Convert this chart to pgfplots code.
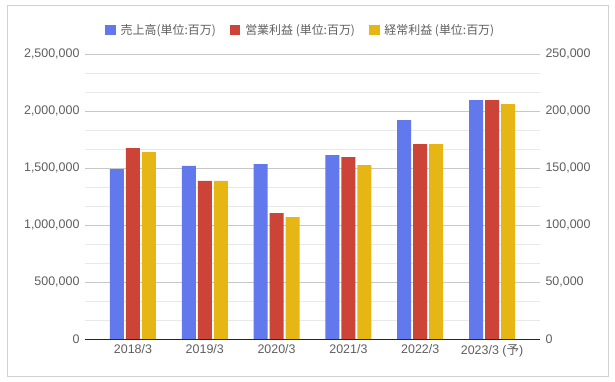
\documentclass[border=0pt]{standalone}
\usepackage{fontspec}
\setmainfont{Liberation Sans}
\newfontfamily\cjk{Noto Sans CJK JP}
\usepackage{pgfplots}
\pgfplotsset{compat=1.18}
\definecolor{cblue}{RGB}{98,121,238}
\definecolor{cred}{RGB}{204,67,56}
\definecolor{cyellow}{RGB}{230,182,20}
\definecolor{ctext}{RGB}{95,95,95}
\pgfplotsset{
  base/.style={
    scale only axis, width=455bp, height=285bp,
    at={(0,0)}, anchor=south west,
    xmin=-0.668, xmax=5.668, ymin=0,
    major tick length=0pt, minor tick length=0pt,
    scaled y ticks=false,
    tick label style={font=\fontsize{12.5}{14}\selectfont, text=ctext},
    /pgf/number format/.cd, fixed, 1000 sep={,}, assume math mode=true,
  },
  sq/.style={legend image code/.code={\draw[##1,draw=none] (0bp,-5bp) rectangle (10.5bp,5bp);}},
}
\begin{document}
\begin{tikzpicture}
\useasboundingbox (-85bp,-43bp) rectangle (530bp,339bp);
\fill[white] (-85bp,-43bp) rectangle (530bp,339bp);
\draw[black!18] (-78bp,-37bp) rectangle (523bp,334bp);
\begin{axis}[base,
  ymax=2500000,
  ytick={0,500000,1000000,1500000,2000000,2500000},
  minor y tick num=2,
  ymajorgrids, yminorgrids,
  major grid style={black!22, line width=0.6pt},
  minor grid style={black!9, line width=0.6pt},
  axis x line*=bottom, axis y line*=left,
  y axis line style={draw=none},
  x axis line style={draw=black!85, line width=0.8pt, -},
  xtick={0,1,2,3,4,5},
  xticklabels={2018/3,2019/3,2020/3,2021/3,2022/3,{2023/3 ({\cjk 予})}},
  yticklabel style={xshift=-2bp},
  xticklabel style={yshift=-2bp},
]
\addplot[ybar, bar width=14bp, bar shift=-16bp, fill=cblue, draw=none]
  coordinates {(0,1490000) (1,1518000) (2,1535000) (3,1614000) (4,1921000) (5,2096000)};
\end{axis}
\begin{axis}[base,
  ymax=250000,
  ytick={0,50000,100000,150000,200000,250000},
  axis x line=none, axis y line*=right,
  y axis line style={draw=none},
  yticklabel style={xshift=2bp},
  legend columns=3,
  legend style={at={(0.044,1)}, anchor=west, yshift=24bp, draw=none, fill=none,
    inner sep=0pt, font=\cjk\fontsize{12}{14}\selectfont, text=ctext,
    /tikz/every odd column/.append style={column sep=3bp},
    /tikz/every even column/.append style={column sep=12bp}},
]
\addlegendimage{sq, fill=cblue, draw=none}
\addlegendentry{売上高(単位:百万)}
\addplot[ybar, bar width=14bp, bar shift=0bp, fill=cred, draw=none, sq]
  coordinates {(0,167500) (1,138600) (2,110500) (3,159600) (4,171000) (5,209600)};
\addlegendentry{営業利益 (単位:百万)}
\addplot[ybar, bar width=14bp, bar shift=16bp, fill=cyellow, draw=none, sq]
  coordinates {(0,164000) (1,138600) (2,107000) (3,152600) (4,171000) (5,206000)};
\addlegendentry{経常利益 (単位:百万)}
\end{axis}
\end{tikzpicture}
\end{document}
